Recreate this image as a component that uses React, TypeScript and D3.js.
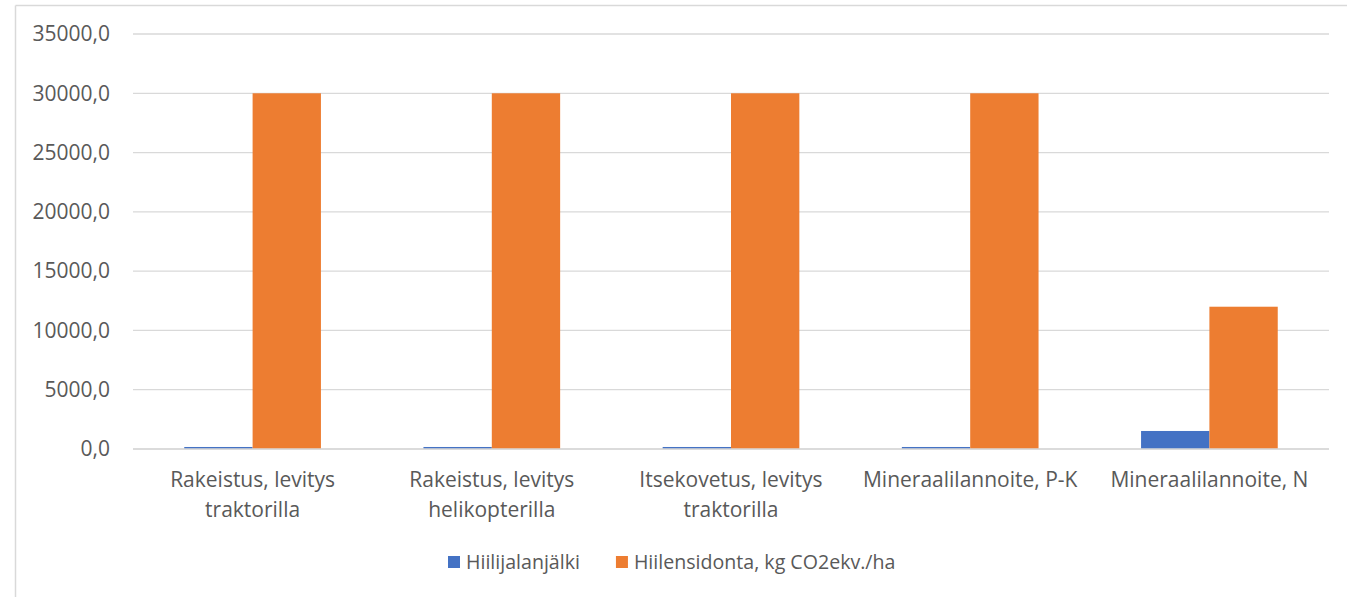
import React from "react";
import * as d3 from "d3";

const categories = [
  "Rakeistus, levitys traktorilla",
  "Rakeistus, levitys helikopterilla",
  "Itsekovetus, levitys traktorilla",
  "Mineraalilannoite, P-K",
  "Mineraalilannoite, N",
];
const seriesNames = ["Hiilijalanjälki", "Hiilensidonta, kg CO2ekv./ha"];
const footprint = [170, 170, 170, 170, 1520];
const sequestration = [30000, 30000, 30000, 30000, 12000];
const yTicks = [0, 5000, 10000, 15000, 20000, 25000, 30000, 35000];
const colors = ["#4472C4", "#ED7D31"];

const W = 1347;
const H = 597;
const FONT = "'Open Sans', sans-serif";
const FS = 21;
const LFS = 19.6;
const TEXT = "#595959";

function measure(text: string, size = FS) {
  const c = document.createElement("canvas").getContext("2d")!;
  c.font = `${size}px 'Open Sans'`;
  return c.measureText(text).width;
}

function wrap(text: string, maxW: number): string[] {
  const words = text.split(" ");
  const lines: string[] = [];
  let cur = "";
  for (const w of words) {
    const t = cur ? cur + " " + w : w;
    if (measure(t) > maxW && cur) {
      lines.push(cur);
      cur = w;
    } else cur = t;
  }
  if (cur) lines.push(cur);
  return lines;
}

export default function App() {
  const left = 133, right = 1329, top = 34, bottom = 449;
  const y = d3.scaleLinear().domain([0, 35000]).range([bottom, top]);
  const x0 = d3.scaleBand<string>().domain(categories).range([left, right]).padding(0);
  const bw = x0.bandwidth();
  const barW = bw / 3.5;
  const x1 = d3.scaleBand<string>().domain(seriesNames).range([bw / 2 - barW, bw / 2 + barW]).padding(0);
  const data = [footprint, sequestration];
  const fmt = (v: number) => d3.format(".1f")(v).replace(".", ",");

  const legendX = 448;
  const legendY = 562;
  const sq = 12;
  const t1 = measure(seriesNames[0], LFS);
  const item2X = legendX + sq + 6 + t1 + 36;

  return (
    <svg width={W} height={H} style={{ position: "absolute", left: 0, top: 0, fontFamily: FONT }}>
      <rect x={0} y={0} width={W} height={H} fill="#fff" />
      <line x1={15.5} y1={5.5} x2={W} y2={5.5} stroke="#d9d9d9" strokeWidth={1.5} />
      <line x1={15.5} y1={5.5} x2={15.5} y2={H} stroke="#d9d9d9" strokeWidth={1.5} />
      {yTicks.map((t) => (
        <g key={t}>
          <line x1={left} x2={right} y1={y(t)} y2={y(t)} stroke="#d9d9d9" strokeWidth={1.3} />
          <text x={110} y={y(t)} dy="0.35em" textAnchor="end" fontSize={FS} fill={TEXT}>
            {fmt(t)}
          </text>
        </g>
      ))}
      {categories.map((c, i) => (
        <g key={c} transform={`translate(${x0(c)},0)`}>
          {seriesNames.map((s, j) => (
            <rect
              key={s}
              x={x1(s)}
              y={y(data[j][i])}
              width={x1.bandwidth()}
              height={bottom - y(data[j][i])}
              fill={colors[j]}
            />
          ))}
          {wrap(c, bw - 10).map((ln, k) => (
            <text key={k} x={bw / 2} y={487 + k * 29.5} textAnchor="middle" fontSize={FS} fill={TEXT}>
              {ln}
            </text>
          ))}
        </g>
      ))}
      <line x1={left} x2={right} y1={bottom} y2={bottom} stroke="#d9d9d9" strokeWidth={1.3} />
      {seriesNames.map((s, j) => {
        const lx = j === 0 ? legendX : item2X;
        return (
          <g key={s}>
            <rect x={lx} y={legendY - sq / 2} width={sq} height={sq} fill={colors[j]} />
            <text x={lx + sq + 6} y={legendY} dy="0.35em" fontSize={LFS} fill={TEXT}>
              {s}
            </text>
          </g>
        );
      })}
    </svg>
  );
}
